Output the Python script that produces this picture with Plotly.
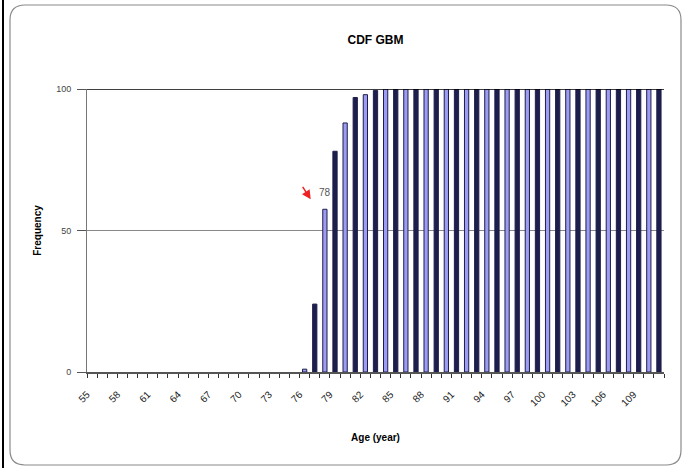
import plotly.graph_objects as go

ages = list(range(55, 112))
cdf_values = [0]*21 + [1, 24, 57.5, 78, 88, 97, 98, 99.5] + [100]*28
tick_ages = list(range(55, 110, 3))
tick_labels = [str(a) for a in tick_ages]

bar_colors = ['#1e1e4c' if i % 2 == 0 else '#9c9cf2' for i in range(len(ages))]
bar_line_w = [0 if v == 0 else 1 for v in cdf_values]

# tick positions at category boundaries; labels on every 3rd boundary
bounds = [a - 0.5 for a in ages] + [ages[-1] + 0.5]
bound_text = [str(int(b + 0.5)) if int(b + 0.5) in tick_ages else '' for b in bounds]

L, R, T, B = 87, 23, 89, 96
W, H = 687, 468
pw, ph = W - L - R, H - T - B

def px2x(px):
    return (px - L) / pw

def py2y(py):
    return (H - B - py) / ph

fig = go.Figure()
fig.add_trace(go.Bar(
    x=ages, y=cdf_values,
    marker=dict(color=bar_colors, line=dict(color='#1e1e4c', width=bar_line_w)),
    width=0.42,
    showlegend=False,
))

# rounded outer frame
x0, x1, y0, y1 = px2x(10), px2x(681), py2y(465), py2y(5)
rx, ry = 15 / pw, 15 / ph
path = (f"M {x0+rx},{y1} L {x1-rx},{y1} Q {x1},{y1} {x1},{y1-ry} "
        f"L {x1},{y0+ry} Q {x1},{y0} {x1-rx},{y0} L {x0+rx},{y0} "
        f"Q {x0},{y0} {x0},{y0+ry} L {x0},{y1-ry} Q {x0},{y1} {x0+rx},{y1} Z")
shapes = [
    dict(type='path', xref='paper', yref='paper', path=path,
         line=dict(color='#8a8a8a', width=1.2)),
    dict(type='line', xref='paper', yref='paper', x0=px2x(3), x1=px2x(3),
         y0=py2y(0), y1=py2y(468), line=dict(color='#000000', width=2)),
    dict(type='line', xref='paper', yref='y', x0=0, x1=1, y0=100, y1=100,
         line=dict(color='#000000', width=1.5), layer='above'),
]

fig.update_layout(
    width=W, height=H,
    margin=dict(l=L, r=R, t=T, b=B),
    paper_bgcolor='white', plot_bgcolor='white',
    font=dict(family='Liberation Sans, Arial, sans-serif', color='#222222'),
    title=dict(text='<b>CDF GBM</b>', x=0.5, xanchor='center', xref='paper',
               y=1 - 40 / H, yanchor='middle', font=dict(size=12, color='#000000')),
    bargap=0.6,
    shapes=shapes,
    annotations=[
        dict(x=78.05, y=63.5, xref='x', yref='y', text='78', showarrow=False,
             font=dict(size=10, color='#555555')),
        dict(x=76.6, y=61, xref='x', yref='y', text='', showarrow=True,
             ax=-9, ay=-14, arrowhead=2, arrowsize=1.2, arrowwidth=1.5,
             arrowcolor='#ee2222'),
    ],
)

fig.update_xaxes(
    range=[54.5, 111.5],
    tickmode='array', tickvals=bounds, ticktext=bound_text,
    tickangle=-45, tickfont=dict(size=10, color='#222222'),
    ticks='outside', ticklen=4, tickcolor='#333333', tickwidth=1,
    ticklabelstandoff=7,
    showgrid=False, zeroline=False,
    showline=True, linecolor='#555555', linewidth=1.5,
    title=dict(text='<b>Age (year)</b>', font=dict(size=10, color='#000000'), standoff=26),
)
fig.update_yaxes(
    range=[0, 100], tickvals=[0, 50, 100], ticktext=['0', '50', '100'],
    ticks='outside', ticklen=9, tickcolor='#555555',
    tickfont=dict(size=9, color='#444444'),
    ticklabelstandoff=4,
    showgrid=True, gridcolor='#888888', gridwidth=1,
    zeroline=False, showline=True, linecolor='#777777', linewidth=1,
    title=dict(text='<b>Frequency</b>', font=dict(size=10, color='#000000'), standoff=12),
)

fig.write_html('out.html')
